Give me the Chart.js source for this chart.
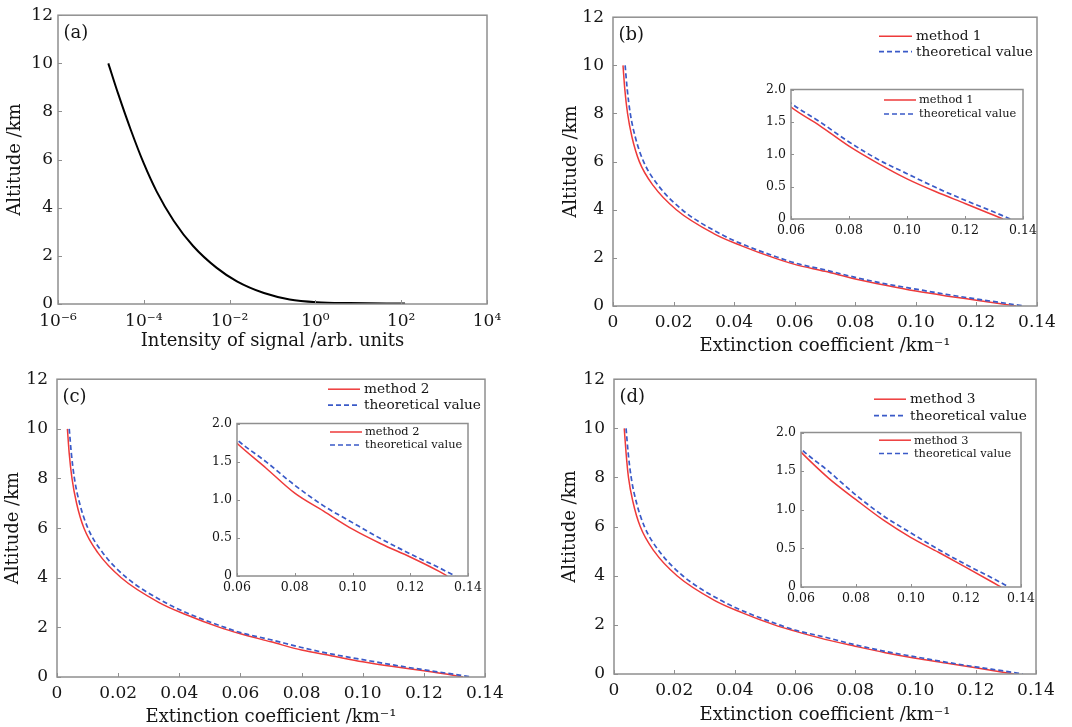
<!DOCTYPE html>
<html><head><meta charset="utf-8">
<script src="https://cdn.jsdelivr.net/npm/chart.js@4.4.1/dist/chart.umd.min.js"></script>
<style>
html,body{margin:0;padding:0;background:#fff;}
#wrap{position:relative;width:1072px;height:727px;overflow:hidden;background:#fff;}
canvas{position:absolute;}
</style></head><body><div id="wrap"></div>
<script>
// ---------- data ----------
// (a) lidar signal intensity vs altitude
const signalIntensity = [1.49e-5, 2.51e-5, 5.01e-5, 1.0e-4, 2.0e-4, 5.01e-4, 1.41e-3, 5.01e-3, 1.48e-2, 6.31e-2, 0.251, 1.07, 6.31, 123];
const signalAltitude  = [10.0, 8.75, 7.22, 5.84, 4.67, 3.45, 2.41, 1.50, 0.94, 0.455, 0.19, 0.077, 0.04, 0.02];

// theoretical extinction profile (same in b, c, d)
const theoryAlt = [10, 9, 8, 7, 6, 5, 4, 3, 2.5, 2.0, 1.79, 1.50, 1.19, 0.92, 0.70, 0.485, 0.29, 0.108, 0];
const theoryExt = [0.0040, 0.0047, 0.0057, 0.0074, 0.0101, 0.0150, 0.0228, 0.0354, 0.0441, 0.0549, 0.060, 0.070, 0.080, 0.090, 0.100, 0.110, 0.120, 0.130, 0.1356];

// method 1 (b)
const method1Alt = [10, 9, 8, 7, 6, 5, 4, 3, 2.5, 2.0, 1.73, 1.44, 1.126, 0.86, 0.62, 0.42, 0.24, 0.057, 0];
const method1Ext = [0.0033, 0.0039, 0.0048, 0.0063, 0.0087, 0.0133, 0.0209, 0.0334, 0.0425, 0.0532, 0.060, 0.070, 0.080, 0.090, 0.100, 0.110, 0.120, 0.130, 0.1331];
// method 2 (c)
const method2Alt = [10, 9, 8, 7, 6, 5, 4, 3, 2.5, 2.0, 1.74, 1.417, 1.086, 0.85, 0.614, 0.42, 0.249, 0.06, 0];
const method2Ext = [0.0034, 0.0040, 0.0049, 0.0064, 0.0088, 0.0134, 0.0210, 0.0334, 0.0425, 0.0532, 0.060, 0.070, 0.080, 0.090, 0.100, 0.110, 0.120, 0.130, 0.1328];
// method 3 (d)
const method3Alt = [10, 9, 8, 7, 6, 5, 4, 3, 2.5, 2.0, 1.746, 1.41, 1.13, 0.865, 0.64, 0.45, 0.255, 0.055, 0];
const method3Ext = [0.0034, 0.0040, 0.0048, 0.0063, 0.0087, 0.0133, 0.0209, 0.0333, 0.0424, 0.0532, 0.060, 0.070, 0.080, 0.090, 0.100, 0.110, 0.120, 0.130, 0.1327];

// ticks
const altTicks = [0, 2, 4, 6, 8, 10, 12];
const altLabels = ['0', '2', '4', '6', '8', '10', '12'];
const extTicks = [0, 0.02, 0.04, 0.06, 0.08, 0.10, 0.12, 0.14];
const extLabels = ['0', '0.02', '0.04', '0.06', '0.08', '0.10', '0.12', '0.14'];
const insetExtTicks = [0.06, 0.08, 0.10, 0.12, 0.14];
const insetExtLabels = ['0.06', '0.08', '0.10', '0.12', '0.14'];
const insetAltTicks = [0, 0.5, 1.0, 1.5, 2.0];
const insetAltLabels = ['0', '0.5', '1.0', '1.5', '2.0'];
const logTicks = [1e-6, 1e-4, 1e-2, 1, 1e2, 1e4];
const logLabels = ['10\u207B\u2076', '10\u207B\u2074', '10\u207B\u00B2', '10\u2070', '10\u00B2', '10\u2074'];

const methodNames = ['method 1', 'method 2', 'method 3'];
const theoryName = 'theoretical value';

// ---------- rendering ----------
const FONT = "'DejaVu Serif', serif";
const RED = '#ee3a3a', BLUE = '#3a5ac8', FRAME = '#8f8f8f', TXT = '#151515';

const pts = (xs, ys) => xs.map((x, i) => ({x: x, y: ys[i]}));

const framePlugin = {
  id: 'frame',
  beforeDraw(chart, args, o) {
    const a = chart.chartArea, ctx = chart.ctx;
    if (o.fill) { ctx.save(); ctx.fillStyle = '#fff'; ctx.fillRect(a.left, a.top, a.right - a.left, a.bottom - a.top); ctx.restore(); }
  },
  afterDraw(chart, args, o) {
    const a = chart.chartArea, ctx = chart.ctx, sx = chart.scales.x, sy = chart.scales.y;
    ctx.save();
    ctx.strokeStyle = FRAME;
    ctx.lineWidth = 1;
    ctx.beginPath();
    sx.ticks.forEach(t => { const p = Math.round(sx.getPixelForValue(t.value)) + 0.5; ctx.moveTo(p, a.bottom); ctx.lineTo(p, a.bottom - o.tick); });
    sy.ticks.forEach(t => { const p = Math.round(sy.getPixelForValue(t.value)) + 0.5; ctx.moveTo(a.left, p); ctx.lineTo(a.left + o.tick, p); });
    ctx.stroke();
    ctx.lineWidth = 1.5;
    ctx.strokeRect(a.left, a.top, a.right - a.left, a.bottom - a.top);
    if (o.label) {
      ctx.fillStyle = TXT; ctx.font = '18px ' + FONT; ctx.textBaseline = 'middle'; ctx.textAlign = 'left';
      ctx.fillText(o.label, a.left + 5.5, a.top + 18);
    }
    if (o.legend) {
      const L = o.legend;
      chart.data.datasets.forEach((ds, i) => {
        const y = a.top + L.row + i * L.step;
        ctx.strokeStyle = ds.borderColor; ctx.lineWidth = ds.borderWidth;
        ctx.setLineDash(ds.borderDash || []);
        ctx.beginPath(); ctx.moveTo(a.right + L.ls, y); ctx.lineTo(a.right + L.le, y); ctx.stroke();
        ctx.setLineDash([]);
        ctx.fillStyle = TXT; ctx.font = L.size + 'px ' + FONT; ctx.textBaseline = 'middle'; ctx.textAlign = 'left';
        ctx.fillText(ds.label, a.right + L.ts, y + 0.5);
      });
    }
    ctx.restore();
  }
};

function panel(s) {
  const cv = document.createElement('canvas');
  const left = s.rect.L - s.yW, top = s.rect.T - s.padT;
  const w = s.rect.R - left + s.padR, h = s.rect.B - top + s.xH;
  cv.width = w; cv.height = h;
  cv.style.left = left + 'px'; cv.style.top = top + 'px';
  cv.style.width = w + 'px'; cv.style.height = h + 'px';
  document.getElementById('wrap').appendChild(cv);
  new Chart(cv, {
    type: 'line',
    data: {datasets: s.datasets},
    options: {
      responsive: false, animation: false, devicePixelRatio: 1,
      layout: {padding: {left: 0, top: s.padT, right: s.padR, bottom: 0}},
      elements: {point: {radius: 0}},
      plugins: {legend: {display: false}, tooltip: {enabled: false}, frame: s.frame},
      scales: {
        x: {
          type: s.xType || 'linear', min: s.xMin, max: s.xMax,
          grid: {display: false, drawTicks: false}, border: {display: false},
          afterBuildTicks: sc => { sc.ticks = s.xTicks.map(v => ({value: v})); },
          afterFit: sc => { sc.height = s.xH; },
          ticks: {autoSkip: false, maxRotation: 0, minRotation: 0, padding: s.xPad, color: TXT,
                  font: {family: FONT, size: s.tickSize}, callback: (v, i) => s.xLabels[i]},
          title: s.xTitle ? {display: true, text: s.xTitle, color: TXT, font: {family: FONT, size: 18},
                  padding: {top: 0, bottom: s.xTitlePad}} : {display: false}
        },
        y: {
          type: 'linear', min: s.yMin, max: s.yMax,
          grid: {display: false, drawTicks: false}, border: {display: false},
          afterBuildTicks: sc => { sc.ticks = s.yTicks.map(v => ({value: v})); },
          afterFit: sc => { sc.width = s.yW; },
          ticks: {autoSkip: false, padding: s.yPad, color: TXT,
                  font: {family: FONT, size: s.tickSize}, callback: (v, i) => s.yLabels[i]},
          title: s.yTitle ? {display: true, text: s.yTitle, color: TXT, font: {family: FONT, size: 18},
                  padding: {top: s.yTitlePad, bottom: 0}} : {display: false}
        }
      }
    },
    plugins: [framePlugin]
  });
}

function extSets(mAlt, mExt, mName) {
  return [
    {label: mName, data: pts(mExt, mAlt), borderColor: RED, borderWidth: 1.5, fill: false,
     cubicInterpolationMode: 'monotone', order: 1, clip: 0},
    {label: theoryName, data: pts(theoryExt, theoryAlt), borderColor: BLUE, borderWidth: 1.7,
     borderDash: [5, 3], fill: false, cubicInterpolationMode: 'monotone', order: 0, clip: 0}
  ];
}

const mainCommon = {yW: 62, padT: 14, padR: 26, xH: 56, tickSize: 17, yMin: 0, yMax: 12,
  yTicks: altTicks, yLabels: altLabels, yTitle: 'Altitude /km'};
const extMain = {xMin: 0, xMax: 0.14, xTicks: extTicks, xLabels: extLabels,
  xTitle: 'Extinction coefficient /km\u207B\u00B9', xPad: 6, yPad: 9};
const insetCommon = {yW: 42, padT: 10, padR: 20, xH: 24, tickSize: 12.5, xMin: 0.06, xMax: 0.14,
  yMin: 0, yMax: 2, xTicks: insetExtTicks, xLabels: insetExtLabels, yTicks: insetAltTicks,
  yLabels: insetAltLabels, xPad: 4.5, yPad: 5};

// (a)
panel(Object.assign({}, mainCommon, {
  rect: {L: 58, T: 14, R: 487, B: 304},
  xType: 'logarithmic', xMin: 1e-6, xMax: 1e4, xTicks: logTicks, xLabels: logLabels,
  xTitle: 'Intensity of signal /arb. units', xPad: 7, yPad: 5, xTitlePad: 8.2, yTitlePad: 9,
  datasets: [{label: 'signal', data: pts(signalIntensity, signalAltitude), borderColor: '#000',
              borderWidth: 2, fill: false, cubicInterpolationMode: 'monotone', clip: 0}],
  frame: {tick: 4, label: '(a)'}
}));

// (b)
panel(Object.assign({}, mainCommon, extMain, {
  rect: {L: 613, T: 12, R: 1037, B: 306}, xTitlePad: 4.5, yTitlePad: 9.2,
  datasets: extSets(method1Alt, method1Ext, methodNames[0]),
  frame: {tick: 4, label: '(b)', legend: {row: 19, step: 15.5, ls: -158, le: -125, ts: -121, size: 13.7}}
}));
panel(Object.assign({}, insetCommon, {
  rect: {L: 791, T: 87, R: 1023, B: 219},
  datasets: extSets(method1Alt, method1Ext, methodNames[0]),
  frame: {tick: 3, fill: true, legend: {row: 10.5, step: 14, ls: -139, le: -107, ts: -104, size: 11.4}}
}));

// (c)
panel(Object.assign({}, mainCommon, extMain, {
  rect: {L: 57, T: 374, R: 485, B: 677}, xTitlePad: 5.2, yTitlePad: 7.5,
  datasets: extSets(method2Alt, method2Ext, methodNames[1]),
  frame: {tick: 4, label: '(c)', legend: {row: 10, step: 16, ls: -157, le: -125, ts: -121, size: 13.7}}
}));
panel(Object.assign({}, insetCommon, {
  rect: {L: 237, T: 421, R: 468, B: 576},
  datasets: extSets(method2Alt, method2Ext, methodNames[1]),
  frame: {tick: 3, fill: true, legend: {row: 8.5, step: 13, ls: -138, le: -106, ts: -103, size: 11.4}}
}));

// (d)
panel(Object.assign({}, mainCommon, extMain, {
  rect: {L: 614, T: 374, R: 1036, B: 674}, xTitlePad: 4.2, yTitlePad: 7.2,
  datasets: extSets(method3Alt, method3Ext, methodNames[2]),
  frame: {tick: 4, label: '(d)', legend: {row: 20, step: 16.4, ls: -162, le: -130, ts: -126, size: 13.7}}
}));
panel(Object.assign({}, insetCommon, {
  rect: {L: 801, T: 430, R: 1021, B: 587},
  datasets: extSets(method3Alt, method3Ext, methodNames[2]),
  frame: {tick: 3, fill: true, legend: {row: 7.7, step: 13.3, ls: -142, le: -110, ts: -107, size: 11.4}}
}));
</script>
</body></html>
